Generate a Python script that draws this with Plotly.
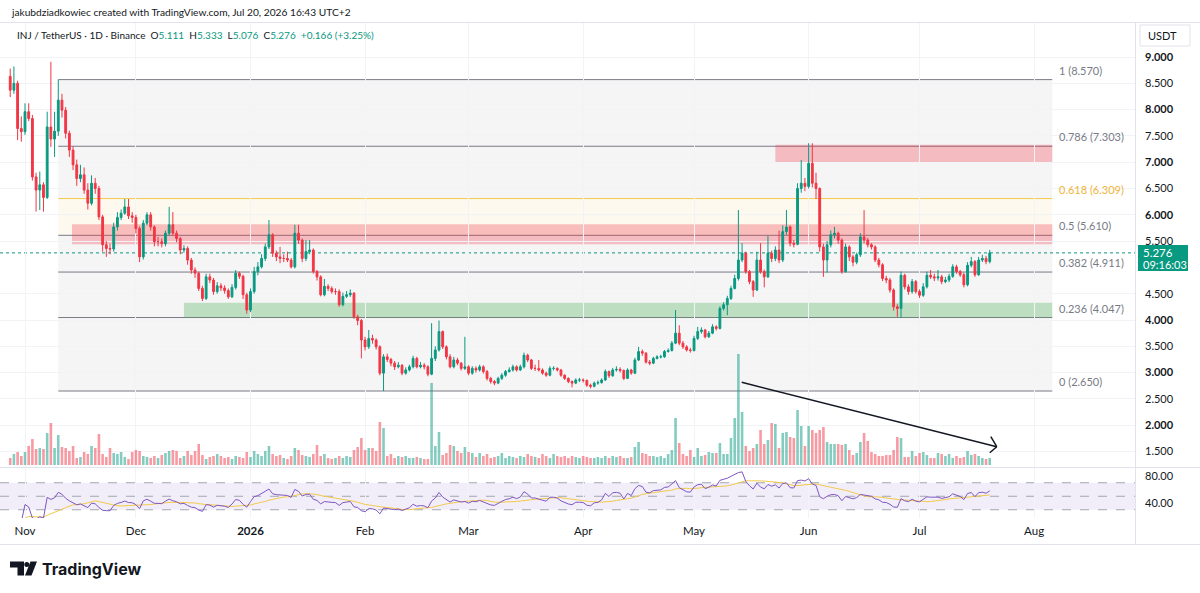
import numpy as np
import pandas as pd
import plotly.graph_objects as go

W, H = 1200, 593

# ---------------- data ----------------
FIRST_DATE = "2025-10-28"
FIRST_OPEN = 8.63
LAST_OPEN = 5.111
CLOSE = [
    8.37, 8.50, 7.64, 7.58, 7.96, 7.83, 6.72, 6.47, 6.57, 6.33,
    7.67, 7.44, 7.59, 8.18, 7.99, 7.55, 7.23, 6.95, 6.69, 6.76,
    6.47, 6.22, 6.60, 6.50, 5.96, 5.43, 5.36, 5.35, 5.77, 5.95,
    6.03, 6.15, 5.98, 5.95, 5.74, 5.20, 5.84, 6.00, 5.77, 5.49,
    5.49, 5.45, 5.65, 5.81, 5.65, 5.55, 5.33, 5.36, 5.14, 4.95,
    4.89, 4.60, 4.41, 4.82, 4.76, 4.54, 4.65, 4.61, 4.56, 4.44,
    4.62, 4.89, 4.83, 4.48, 4.19, 4.54, 4.92, 5.01, 5.17, 5.39,
    5.62, 5.27, 5.20, 5.17, 5.17, 5.14, 5.01, 5.65, 5.52, 5.17,
    5.30, 5.33, 4.92, 4.82, 4.48, 4.64, 4.60, 4.54, 4.54, 4.29,
    4.45, 4.48, 4.51, 4.06, 3.99, 3.62, 3.49, 3.65, 3.62, 3.49,
    2.99, 3.30, 3.25, 3.18, 3.11, 3.14, 2.99, 3.05, 3.11, 3.27,
    3.11, 3.14, 3.11, 2.97, 3.27, 3.43, 3.78, 3.49, 3.30, 3.11,
    3.24, 3.18, 3.08, 3.11, 2.99, 3.08, 3.05, 3.11, 3.02, 2.89,
    2.83, 2.80, 2.89, 2.95, 3.02, 3.05, 3.11, 3.05, 3.11, 3.33,
    3.24, 3.08, 3.08, 3.05, 2.99, 2.95, 3.08, 3.08, 3.05, 2.95,
    2.89, 2.83, 2.80, 2.86, 2.86, 2.85, 2.76, 2.74, 2.80, 2.81,
    2.86, 3.02, 2.94, 3.05, 3.06, 3.04, 2.89, 3.05, 2.99, 3.24,
    3.40, 3.37, 3.20, 3.18, 3.27, 3.30, 3.30, 3.40, 3.42, 3.56,
    3.75, 3.56, 3.49, 3.43, 3.42, 3.65, 3.78, 3.81, 3.68, 3.75,
    3.87, 3.84, 4.22, 4.29, 4.41, 4.60, 4.79, 5.14, 5.27, 4.92,
    4.73, 4.57, 5.14, 4.92, 4.82, 5.27, 5.17, 5.33, 5.14, 5.68,
    5.77, 5.46, 5.44, 6.50, 6.60, 6.54, 6.98, 6.60, 6.50, 5.39,
    5.14, 5.43, 5.62, 5.65, 5.52, 4.92, 5.39, 5.20, 5.10, 5.24,
    5.58, 5.52, 5.43, 5.39, 5.14, 5.05, 4.79, 4.76, 4.57, 4.25,
    4.22, 4.85, 4.63, 4.54, 4.73, 4.54, 4.47, 4.63, 4.85, 4.82,
    4.80, 4.82, 4.73, 4.76, 4.83, 5.01, 4.92, 4.86, 4.67, 5.04,
    5.11, 4.86, 5.14, 5.17, 5.110, 5.276,
]
HIGH = [
    8.78, 8.82, 8.55, 7.87, 8.12, 8.12, 7.90, 6.80, 6.82, 6.62,
    7.96, 8.91, 7.96, 8.57, 8.30, 8.05, 7.60, 7.30, 7.05, 6.95,
    6.90, 6.60, 6.75, 6.70, 6.55, 6.00, 5.50, 5.45, 5.85, 6.05,
    6.10, 6.30, 6.30, 6.05, 6.00, 5.78, 5.90, 6.05, 6.05, 5.80,
    5.58, 5.55, 5.70, 6.15, 6.05, 5.70, 5.58, 5.42, 5.40, 5.18,
    5.00, 4.92, 4.65, 4.88, 4.88, 4.80, 4.72, 4.70, 4.66, 4.60,
    4.68, 4.95, 4.92, 4.86, 4.52, 4.60, 5.01, 5.10, 5.25, 5.45,
    5.90, 5.65, 5.32, 5.39, 5.25, 5.30, 5.18, 5.81, 5.81, 5.55,
    5.52, 5.52, 5.36, 4.95, 4.85, 4.78, 4.68, 4.64, 4.60, 4.58,
    4.52, 4.55, 4.58, 4.53, 4.10, 4.02, 3.68, 3.81, 3.72, 3.65,
    3.52, 3.35, 3.36, 3.28, 3.22, 3.20, 3.16, 3.10, 3.15, 3.32,
    3.30, 3.20, 3.18, 3.14, 3.94, 3.50, 3.99, 3.80, 3.52, 3.35,
    3.30, 3.28, 3.20, 3.68, 3.14, 3.12, 3.12, 3.15, 3.14, 3.05,
    2.92, 2.86, 2.92, 2.99, 3.05, 3.10, 3.15, 3.14, 3.15, 3.38,
    3.36, 3.26, 3.15, 3.24, 3.08, 3.02, 3.12, 3.12, 3.10, 3.07,
    2.97, 2.91, 2.85, 2.89, 2.90, 2.89, 2.87, 2.79, 2.83, 2.85,
    2.89, 3.06, 3.04, 3.09, 3.12, 3.10, 3.06, 3.08, 3.07, 3.28,
    3.49, 3.44, 3.39, 3.24, 3.30, 3.33, 3.34, 3.43, 3.46, 3.60,
    4.19, 3.90, 3.60, 3.52, 3.47, 3.70, 3.87, 3.86, 3.83, 3.79,
    3.92, 3.90, 4.26, 4.34, 4.46, 4.65, 4.86, 6.09, 5.46, 5.30,
    4.95, 4.76, 5.30, 5.46, 4.96, 5.60, 5.32, 5.40, 5.70, 5.80,
    6.09, 5.80, 5.52, 6.60, 7.04, 6.70, 7.36, 7.36, 6.80, 6.52,
    5.45, 5.50, 5.70, 5.77, 5.68, 5.55, 5.45, 5.42, 5.24, 5.28,
    5.65, 6.09, 5.56, 5.46, 5.42, 5.18, 5.08, 4.84, 4.80, 4.60,
    4.30, 4.92, 4.88, 4.68, 4.78, 4.76, 4.58, 4.70, 4.92, 4.95,
    4.88, 4.95, 4.86, 4.82, 4.88, 5.06, 5.05, 4.95, 4.90, 5.10,
    5.20, 5.14, 5.20, 5.24, 5.22, 5.333,
]
LOW = [
    8.24, 8.30, 7.42, 7.39, 7.52, 7.78, 6.65, 6.06, 6.09, 6.06,
    6.30, 7.29, 7.10, 7.50, 7.85, 7.45, 7.10, 6.85, 6.55, 6.62,
    6.40, 6.10, 6.18, 6.40, 5.90, 5.30, 5.20, 5.25, 5.30, 5.70,
    5.90, 6.00, 5.92, 5.85, 5.65, 5.10, 5.15, 5.80, 5.70, 5.40,
    5.40, 5.38, 5.40, 5.60, 5.60, 5.48, 5.25, 5.28, 5.05, 4.88,
    4.80, 4.55, 4.36, 4.38, 4.70, 4.48, 4.50, 4.55, 4.50, 4.40,
    4.42, 4.58, 4.78, 4.40, 4.12, 4.15, 4.50, 4.85, 4.98, 5.12,
    5.35, 5.20, 5.12, 5.08, 5.10, 5.10, 4.98, 4.98, 5.45, 5.10,
    5.12, 5.25, 4.88, 4.75, 4.45, 4.45, 4.55, 4.50, 4.48, 4.25,
    4.26, 4.42, 4.44, 4.02, 3.90, 3.27, 3.42, 3.45, 3.55, 3.44,
    2.95, 2.65, 3.20, 3.12, 3.05, 3.08, 2.95, 2.96, 3.02, 3.08,
    3.08, 3.08, 3.06, 2.93, 2.95, 3.22, 3.40, 3.45, 3.25, 3.08,
    3.08, 3.14, 3.04, 3.05, 2.95, 2.96, 3.00, 3.02, 2.98, 2.85,
    2.79, 2.76, 2.78, 2.86, 2.92, 3.00, 3.02, 3.02, 3.03, 3.08,
    3.20, 3.05, 3.03, 3.02, 2.96, 2.92, 2.93, 3.04, 3.02, 2.92,
    2.86, 2.80, 2.72, 2.78, 2.82, 2.81, 2.73, 2.70, 2.72, 2.77,
    2.79, 2.84, 2.90, 2.92, 3.02, 3.00, 2.86, 2.88, 2.96, 2.97,
    3.22, 3.32, 3.17, 3.14, 3.16, 3.25, 3.27, 3.28, 3.38, 3.40,
    3.54, 3.52, 3.45, 3.40, 3.38, 3.40, 3.62, 3.74, 3.65, 3.66,
    3.73, 3.80, 3.82, 4.18, 4.09, 4.38, 4.58, 4.75, 5.10, 4.88,
    4.68, 4.44, 4.55, 4.88, 4.62, 4.80, 5.10, 5.12, 5.08, 5.10,
    5.62, 5.40, 5.38, 5.42, 6.42, 6.45, 6.50, 6.52, 6.30, 5.30,
    4.82, 4.90, 5.38, 5.55, 5.45, 4.88, 4.90, 5.12, 5.02, 5.06,
    5.20, 5.46, 5.38, 5.34, 5.10, 5.00, 4.74, 4.70, 4.52, 4.18,
    4.06, 4.04, 4.58, 4.48, 4.50, 4.50, 4.42, 4.44, 4.60, 4.78,
    4.74, 4.75, 4.68, 4.70, 4.72, 4.80, 4.88, 4.82, 4.62, 4.64,
    5.00, 4.82, 4.84, 5.10, 5.06, 5.076,
]
VOLUME = [  # relative daily volume
    7, 11, 13, 9, 13, 19, 26, 16, 17, 16,
    32, 42, 17, 30, 18, 17, 14, 19, 7, 8,
    13, 11, 19, 17, 31, 11, 8, 17, 12, 11,
    13, 8, 6, 13, 15, 14, 9, 8, 7, 9,
    7, 10, 12, 14, 15, 14, 7, 9, 14, 10,
    14, 21, 10, 6, 8, 9, 11, 9, 7, 8,
    6, 9, 8, 7, 13, 8, 14, 11, 9, 14,
    19, 11, 9, 10, 7, 6, 9, 17, 15, 10,
    9, 8, 11, 20, 9, 11, 7, 6, 7, 9,
    7, 9, 8, 15, 18, 27, 15, 17, 17, 14,
    43, 37, 9, 11, 7, 9, 8, 9, 7, 7,
    8, 7, 6, 6, 82, 19, 33, 10, 12, 20,
    19, 14, 12, 18, 13, 12, 8, 12, 9, 11,
    7, 8, 9, 12, 7, 9, 8, 7, 9, 8,
    11, 9, 8, 7, 11, 9, 7, 11, 9, 8,
    9, 7, 9, 8, 7, 9, 8, 7, 7, 8,
    7, 9, 7, 9, 8, 9, 7, 7, 8, 18,
    23, 12, 11, 9, 9, 8, 9, 7, 11, 15,
    47, 22, 11, 9, 15, 8, 17, 9, 10, 13,
    12, 12, 22, 11, 11, 27, 47, 111, 53, 19,
    14, 17, 21, 35, 21, 25, 42, 41, 17, 32,
    33, 28, 27, 55, 39, 19, 39, 35, 32, 35,
    38, 23, 21, 21, 21, 20, 21, 15, 10, 12,
    23, 32, 24, 13, 11, 9, 9, 10, 10, 15,
    28, 27, 8, 8, 14, 9, 12, 13, 10, 7,
    7, 12, 11, 9, 11, 7, 9, 7, 8, 14,
    10, 11, 9, 7, 6, 7,
]

FIB_HIGH = 8.570
FIB_LOW = 2.650
FIB_LEVELS = [1, 0.786, 0.618, 0.5, 0.382, 0.236, 0]
FIB_START = "2025-11-10"
FIB_END = "2026-08-05 22:00"

ZONE_START = ["2026-05-23", "2025-11-13 17:00", "2025-12-14"]
ZONE_LOW = [7.00, 5.44, 4.047]
ZONE_HIGH = [7.33, 5.82, 4.33]
ZONE_KIND = ["supply", "supply", "demand"]

ARROW_X = ["2026-05-13 21:30", "2026-07-21 21:30"]
ARROW_Y = [2.816, 1.591]
ARROW_HEAD_X = ["2026-07-20 07:00", "2026-07-20 00:00"]
ARROW_HEAD_Y = [1.782, 1.477]

MONTH_TICKS = ["2025-11-01", "2025-12-01", "2026-01-01", "2026-02-01", "2026-03-01",
               "2026-04-01", "2026-05-01", "2026-06-01", "2026-07-01", "2026-08-01"]
MONTH_LABELS = ["Nov", "Dec", "<b>2026</b>", "Feb", "Mar", "Apr", "May", "Jun", "Jul", "Aug"]
PRICE_TICKS = [1.5, 2.0, 2.5, 3.0, 3.5, 4.0, 4.5, 5.5, 6.0, 6.5, 7.0, 7.5, 8.0, 8.5, 9.0]

X_RANGE = ["2025-10-25 05:40", "2026-08-28 07:10"]
PRICE_RANGE = [1.2053, 9.6654]
VOL_RANGE = [-2, 443]
RSI_RANGE = [17.78, 91.85]

# ---------------- derived ----------------
dates = pd.date_range(FIRST_DATE, periods=len(CLOSE), freq="D")
OPEN = [FIRST_OPEN] + CLOSE[:-1]
OPEN[-1] = LAST_OPEN
close_s = pd.Series(CLOSE, index=dates)
delta = close_s.diff().fillna(0.0)
gain = delta.clip(lower=0).ewm(alpha=1 / 14, adjust=True).mean()
loss = (-delta.clip(upper=0)).ewm(alpha=1 / 14, adjust=True).mean()
rsi = 100 - 100 / (1 + gain / loss.replace(0, np.nan))
rsi = rsi.bfill()
rsi_ma = rsi.rolling(14, min_periods=1).mean()

UP = "#089981"
DN = "#F23645"
vol_colors = ["rgba(8,153,129,0.5)" if c >= o else "rgba(242,54,69,0.5)" for o, c in zip(OPEN, CLOSE)]

FONT = "Lato, 'Open Sans', sans-serif"
TXT = "#131722"
GRAY = "#787B86"


def px(x):
    return x / W


def py(y):
    return 1 - y / H


PRICE_DOM = [py(467), py(22)]
RSI_DOM = [py(518), py(468)]
X_DOM = [0, px(1135)]

fig = go.Figure()

fig.add_trace(go.Bar(x=dates, y=VOLUME, marker=dict(color=vol_colors, line_width=0),
                     xaxis="x", yaxis="y", hoverinfo="skip", showlegend=False))
fig.add_trace(go.Candlestick(
    x=dates, open=OPEN, high=HIGH, low=LOW, close=CLOSE, xaxis="x", yaxis="y2",
    increasing=dict(line=dict(color=UP, width=1), fillcolor=UP),
    decreasing=dict(line=dict(color=DN, width=1), fillcolor=DN),
    whiskerwidth=0, hoverinfo="skip", showlegend=False))
fig.add_trace(go.Scatter(x=dates, y=rsi_ma, mode="lines", line=dict(color="#F2C94C", width=1),
                         xaxis="x", yaxis="y3", hoverinfo="skip", showlegend=False))
fig.add_trace(go.Scatter(x=dates, y=rsi, mode="lines", line=dict(color="#7E57C2", width=1),
                         xaxis="x", yaxis="y3", hoverinfo="skip", showlegend=False))

shapes = []
annos = []

# fib bands and lines
fib_prices = [FIB_LOW + (FIB_HIGH - FIB_LOW) * lv for lv in FIB_LEVELS]
for i in range(len(FIB_LEVELS) - 1):
    lv_hi = FIB_LEVELS[i]
    fill = "#FDF9EE" if (lv_hi == 0.618) else "#F5F5F6"
    shapes.append(dict(type="rect", xref="x", yref="y2", x0=FIB_START, x1=FIB_END,
                       y0=fib_prices[i + 1], y1=fib_prices[i], fillcolor=fill,
                       line_width=0, layer="below"))
for lv, p in zip(FIB_LEVELS, fib_prices):
    col = "#F2C94C" if lv == 0.618 else GRAY
    lcol = "#EFB43B" if lv == 0.618 else GRAY
    shapes.append(dict(type="line", xref="x", yref="y2", x0=FIB_START, x1=FIB_END,
                       y0=p, y1=p, line=dict(color=col, width=1), layer="below"))
    annos.append(dict(x=FIB_END, y=p, xref="x", yref="y2", xanchor="left", yanchor="bottom",
                      xshift=5, yshift=1, showarrow=False, text=f"{lv:g} ({p:.3f})",
                      font=dict(family=FONT, size=11, color=lcol)))

# zones
for s, lo, hi, kind in zip(ZONE_START, ZONE_LOW, ZONE_HIGH, ZONE_KIND):
    fill = "rgba(242,54,69,0.30)" if kind == "supply" else "rgba(76,175,80,0.32)"
    shapes.append(dict(type="rect", xref="x", yref="y2", x0=s, x1=FIB_END, y0=lo, y1=hi,
                       fillcolor=fill, line_width=0, layer="below"))

# current price dotted line
last = CLOSE[-1]
shapes.append(dict(type="line", xref="x", yref="y2", x0=X_RANGE[0], x1=X_RANGE[1], y0=last, y1=last,
                   line=dict(color=UP, width=1, dash="dot"), layer="below"))

# RSI band + levels
shapes.append(dict(type="rect", xref="x", yref="y3", x0=X_RANGE[0], x1=X_RANGE[1], y0=30, y1=70,
                   fillcolor="rgba(126,87,194,0.10)", line_width=0, layer="below"))
for lvl in (70, 50, 30):
    shapes.append(dict(type="line", xref="x", yref="y3", x0=X_RANGE[0], x1=X_RANGE[1], y0=lvl, y1=lvl,
                       line=dict(color="#A3A6AF", width=1, dash="dash"), layer="below"))

# arrow drawing
shapes.append(dict(type="line", xref="x", yref="y2", x0=ARROW_X[0], y0=ARROW_Y[0],
                   x1=ARROW_X[1], y1=ARROW_Y[1], line=dict(color=TXT, width=1.5)))
for hx, hy in zip(ARROW_HEAD_X, ARROW_HEAD_Y):
    shapes.append(dict(type="line", xref="x", yref="y2", x0=hx, y0=hy,
                       x1=ARROW_X[1], y1=ARROW_Y[1], line=dict(color=TXT, width=1.5)))

# frame / separators
BORDER = "#E0E3EB"
for yy in (22.5, 467.5, 544.5):
    shapes.append(dict(type="line", xref="paper", yref="paper", x0=0, x1=1, y0=py(yy), y1=py(yy),
                       line=dict(color=BORDER, width=1)))
shapes.append(dict(type="line", xref="paper", yref="paper", x0=px(1135.5), x1=px(1135.5),
                   y0=py(22.5), y1=py(544.5), line=dict(color=BORDER, width=1)))

# last price label box
shapes.append(dict(type="rect", xref="paper", yref="paper", x0=px(1138), x1=px(1188),
                   y0=py(271), y1=py(245), fillcolor=UP, line_width=0, layer="above"))
annos.append(dict(x=px(1141), y=py(252.5), xref="paper", yref="paper", xanchor="left",
                  yanchor="middle", showarrow=False, text=f"{last:.3f}",
                  font=dict(family=FONT, size=11.5, color="white")))
annos.append(dict(x=px(1141), y=py(264.5), xref="paper", yref="paper", xanchor="left",
                  yanchor="middle", showarrow=False, text="09:16:03",
                  font=dict(family=FONT, size=11, color="white")))

# USDT box
shapes.append(dict(type="rect", xref="paper", yref="paper", x0=px(1140), x1=px(1190),
                   y0=py(46), y1=py(25), fillcolor="white", line=dict(color=BORDER, width=1)))
annos.append(dict(x=px(1146), y=py(35.5), xref="paper", yref="paper", xanchor="left",
                  yanchor="middle", showarrow=False, text="USDT",
                  font=dict(family=FONT, size=11, color=TXT)))

# header texts
annos.append(dict(x=px(9), y=py(12), xref="paper", yref="paper", xanchor="left", yanchor="middle",
                  showarrow=False,
                  text="jakubdziadkowiec created with TradingView.com, Jul 20, 2026 16:43 UTC+2",
                  font=dict(family=FONT, size=10.2, color=TXT)))
prev = CLOSE[-2]
chg = last - prev
g = lambda s: f"<span style='color:{UP}'>{s}</span>"
hdr = (f"INJ / TetherUS · 1D · Binance  O{g(f'{OPEN[-1]:.3f}')}  H{g(f'{HIGH[-1]:.3f}')}  "
       f"L{g(f'{LOW[-1]:.3f}')}  C{g(f'{last:.3f}')}  {g(f'+{chg:.3f} (+{chg / prev * 100:.2f}%)')}")
annos.append(dict(x=px(15), y=py(35), xref="paper", yref="paper", xanchor="left", yanchor="middle",
                  showarrow=False, text=hdr, font=dict(family=FONT, size=10, color=TXT)))


# TradingView logo
def pth(points):
    return "M " + " L ".join(f"{px(a):.5f},{py(b):.5f}" for a, b in points) + " Z"


shapes.append(dict(type="path", xref="paper", yref="paper",
                   path=pth([(10, 561.5), (24, 561.5), (24, 575.5), (17.5, 575.5), (17.5, 567.5), (10, 567.5)]),
                   fillcolor=TXT, line_width=0))
shapes.append(dict(type="circle", xref="paper", yref="paper", x0=px(24.3), x1=px(29.3),
                   y0=py(567), y1=py(562), fillcolor=TXT, line_width=0))
shapes.append(dict(type="path", xref="paper", yref="paper",
                   path=pth([(30.5, 561.5), (37, 561.5), (31.5, 575.5), (25, 575.5)]),
                   fillcolor=TXT, line_width=0))
annos.append(dict(x=px(40), y=py(568.5), xref="paper", yref="paper", xanchor="left", yanchor="middle",
                  showarrow=False, text="<b>TradingView</b>",
                  font=dict(family="Inter, Roboto, sans-serif", size=16, color=TXT)))

price_text = [f"<b>{v:.3f}</b>" if float(v).is_integer() else f"{v:.3f}" for v in PRICE_TICKS]

fig.update_layout(
    width=W, height=H, margin=dict(l=0, r=0, t=0, b=0),
    paper_bgcolor="white", plot_bgcolor="white",
    font=dict(family=FONT, size=11, color=TXT),
    bargap=0.3, showlegend=False, hovermode=False, dragmode=False,
    xaxis=dict(domain=X_DOM, anchor="y3", type="date", range=X_RANGE,
               tickvals=MONTH_TICKS, ticktext=MONTH_LABELS, ticks="", ticklabelstandoff=4,
               showgrid=True, gridcolor="#F2F3F6", zeroline=False, showline=False,
               rangeslider=dict(visible=False), tickfont=dict(size=11.5, color=TXT)),
    yaxis=dict(domain=PRICE_DOM, anchor="x", range=VOL_RANGE, visible=False, fixedrange=True),
    yaxis2=dict(overlaying="y", anchor="x", side="right", range=PRICE_RANGE,
                tickvals=PRICE_TICKS, ticktext=price_text, ticks="", ticklabelstandoff=9,
                showgrid=True, gridcolor="#F2F3F6", zeroline=False, showline=False,
                tickfont=dict(size=11, color=TXT)),
    yaxis3=dict(domain=RSI_DOM, anchor="x", side="right", range=RSI_RANGE,
                tickvals=[40, 80], ticktext=["40.00", "80.00"], ticks="", ticklabelstandoff=9,
                showgrid=False, zeroline=False, showline=False, tickfont=dict(size=11, color=TXT)),
    shapes=shapes, annotations=annos,
)

fig.write_html("out.html")
